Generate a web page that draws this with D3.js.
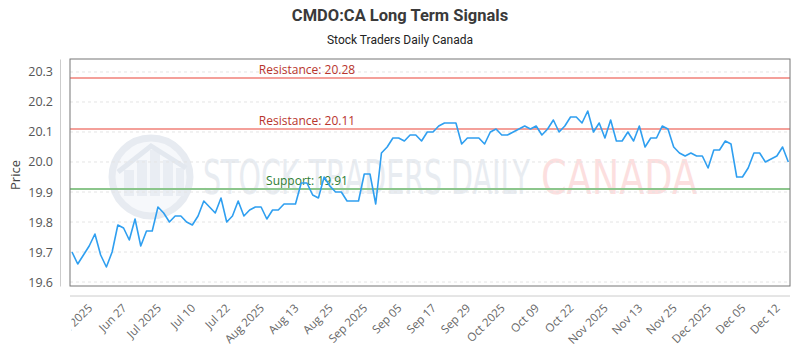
<!DOCTYPE html>
<html>
<head>
<meta charset="utf-8">
<script src="https://cdn.jsdelivr.net/npm/d3@7"></script>
<style>
  html, body { margin: 0; padding: 0; background: #fff; }
  svg { display: block; }
</style>
</head>
<body>
<div id="chart"></div>
<script>
(function () {
  'use strict';

  // Closing prices, one per trading day
  var prices = [
    19.70, 19.66, 19.69, 19.72, 19.76, 19.69, 19.65, 19.70, 19.79, 19.78, 19.74, 19.81, 19.72, 19.77, 19.77, 19.85,
    19.83, 19.80, 19.82, 19.82, 19.80, 19.79, 19.82, 19.87, 19.85, 19.83, 19.88, 19.80, 19.82, 19.87, 19.82, 19.84,
    19.85, 19.85, 19.81, 19.84, 19.84, 19.86, 19.86, 19.86, 19.93, 19.93, 19.89, 19.88, 19.95, 19.92, 19.90, 19.90,
    19.87, 19.87, 19.87, 19.96, 19.96, 19.86, 20.03, 20.05, 20.08, 20.08, 20.07, 20.09, 20.09, 20.07, 20.10,
    20.10, 20.12, 20.13, 20.13, 20.13, 20.06, 20.08, 20.08, 20.08, 20.06, 20.10, 20.11, 20.09, 20.09, 20.10, 20.11,
    20.12, 20.11, 20.12, 20.09, 20.11, 20.14, 20.10, 20.12, 20.15, 20.15, 20.13, 20.17, 20.10, 20.13, 20.08, 20.14,
    20.07, 20.07, 20.10, 20.07, 20.12, 20.05, 20.08, 20.08, 20.12, 20.11, 20.05, 20.03, 20.02, 20.03, 20.02, 20.02,
    19.98, 20.04, 20.04, 20.07, 20.06, 19.95, 19.95, 19.98, 20.03, 20.03, 20.00, 20.01, 20.02, 20.05, 20.00
  ];

  // x-axis labels and the trading-day index each one sits on
  var tickLabels = ['Jun 2025', 'Jun 27', 'Jul 2025', 'Jul 10', 'Jul 22', 'Aug 2025', 'Aug 13', 'Aug 25',
    'Sep 2025', 'Sep 05', 'Sep 17', 'Sep 29', 'Oct 2025', 'Oct 09', 'Oct 22', 'Nov 2025', 'Nov 13', 'Nov 25',
    'Dec 2025', 'Dec 05', 'Dec 12'];
  var tickIndex = [3, 9, 15, 21, 27, 33, 39, 45, 51, 57, 63, 69, 75, 81, 87, 93, 99, 105, 111, 117, 123];

  var yTicks = [19.6, 19.7, 19.8, 19.9, 20.0, 20.1, 20.2, 20.3];

  var levels = [
    { label: 'Resistance: 20.28', value: 20.28, line: '#f4a09a', text: '#b8342c' },
    { label: 'Resistance: 20.11', value: 20.11, line: '#f4a09a', text: '#b8342c' },
    { label: 'Support: 19.91', value: 19.91, line: '#8cc68c', text: '#2e7d32' }
  ];

  var width = 800, height = 350;
  var plot = { left: 70, right: 790, top: 59, bottom: 286 };

  var svg = d3.select('#chart').append('svg').attr('width', width).attr('height', height);

  var x = d3.scaleLinear().domain([0, prices.length - 1]).range([72, 788.3]);
  var y = d3.scaleLinear().domain([19.5867, 20.3433]).range([plot.bottom, plot.top]);

  // Title
  svg.append('text').attr('x', 400).attr('y', 21).attr('text-anchor', 'middle')
    .attr('font-family', 'Roboto, sans-serif').attr('font-weight', 700).attr('font-size', 16.5)
    .attr('fill', '#3a3a3a').text('CMDO:CA Long Term Signals');
  svg.append('text').attr('x', 400).attr('y', 44).attr('text-anchor', 'middle')
    .attr('font-family', 'Roboto, sans-serif').attr('font-size', 12)
    .attr('fill', '#222').text('Stock Traders Daily Canada');

  // Watermark
  var wm = svg.append('g').attr('pointer-events', 'none');
  wm.append('circle').attr('cx', 151).attr('cy', 177).attr('r', 39)
    .attr('fill', '#f6f8fb').attr('stroke', '#e7ebf1').attr('stroke-width', 7);
  [[124, 170, 10, 26], [137, 160, 10, 36], [150, 150, 10, 46], [163, 160, 10, 36], [176, 168, 8, 28]].forEach(function (r) {
    wm.append('rect').attr('x', r[0]).attr('y', r[1]).attr('width', r[2]).attr('height', r[3]).attr('fill', '#e9edf3');
  });
  wm.append('path').attr('d', 'M118,172 L151,146 L186,168').attr('fill', 'none')
    .attr('stroke', '#e3e8ef').attr('stroke-width', 5);
  wm.append('text').attr('x', 203).attr('y', 194)
    .attr('font-family', 'DejaVu Sans, sans-serif').attr('font-size', 48)
    .attr('textLength', 327).attr('lengthAdjust', 'spacingAndGlyphs')
    .attr('fill', '#e8ecf1').text('STOCK TRADERS DAILY');
  wm.append('text').attr('x', 541).attr('y', 194)
    .attr('font-family', 'DejaVu Sans, sans-serif').attr('font-size', 48)
    .attr('textLength', 156).attr('lengthAdjust', 'spacingAndGlyphs')
    .attr('fill', '#fcdfdf').text('CANADA');

  // Grid
  svg.append('g').selectAll('line').data(yTicks).enter().append('line')
    .attr('x1', plot.left).attr('x2', plot.right)
    .attr('y1', function (d) { return y(d); }).attr('y2', function (d) { return y(d); })
    .attr('stroke', '#e4e4e4').attr('stroke-dasharray', '3,3');

  // Y axis
  var yAxis = svg.append('g').attr('transform', 'translate(60,0)')
    .call(d3.axisLeft(y).tickValues(yTicks).tickFormat(d3.format('.1f')).tickSize(0).tickPadding(7));
  yAxis.select('.domain').attr('stroke', '#ccc');
  yAxis.selectAll('text').attr('font-family', 'Open Sans, sans-serif').attr('font-size', 12.5).attr('fill', '#555');

  svg.append('text').attr('transform', 'translate(20,175) rotate(-90)').attr('text-anchor', 'middle')
    .attr('font-family', 'Open Sans, sans-serif').attr('font-size', 13).attr('fill', '#444').text('Price');

  // X axis
  svg.append('line').attr('x1', plot.left).attr('x2', plot.right).attr('y1', 296).attr('y2', 296).attr('stroke', '#ccc');
  svg.append('clipPath').attr('id', 'xclip').append('rect').attr('x', 71.5).attr('y', 290).attr('width', 728).attr('height', 60);
  svg.append('g').attr('clip-path', 'url(#xclip)').selectAll('text').data(tickIndex).enter().append('text')
    .attr('transform', function (d) { return 'translate(' + (x(d) + 1) + ',306) rotate(-45)'; })
    .attr('text-anchor', 'end').attr('dy', '0.35em')
    .attr('font-family', 'Open Sans, sans-serif').attr('font-size', 11.5).attr('fill', '#666')
    .text(function (d, i) { return tickLabels[i]; });

  // Support / resistance
  var lv = svg.append('g').selectAll('g').data(levels).enter().append('g');
  lv.append('line').attr('x1', plot.left).attr('x2', plot.right)
    .attr('y1', function (d) { return y(d.value); }).attr('y2', function (d) { return y(d.value); })
    .attr('stroke', function (d) { return d.line; }).attr('stroke-width', 2);
  lv.append('text').attr('x', 307).attr('y', function (d) { return y(d.value) - 4; })
    .attr('text-anchor', 'middle').attr('font-family', 'Open Sans, sans-serif').attr('font-size', 12)
    .attr('fill', function (d) { return d.text; }).text(function (d) { return d.label; });

  // Price line
  var line = d3.line().x(function (d, i) { return x(i); }).y(function (d) { return y(d); });
  svg.append('path').datum(prices).attr('d', line)
    .attr('fill', 'none').attr('stroke', '#2f9ff0').attr('stroke-width', 1.6).attr('stroke-linejoin', 'round');

  // Plot frame
  svg.append('rect').attr('x', plot.left).attr('y', plot.top)
    .attr('width', plot.right - plot.left).attr('height', plot.bottom - plot.top)
    .attr('fill', 'none').attr('stroke', '#777').attr('stroke-width', 1);
})();
</script>
</body>
</html>
